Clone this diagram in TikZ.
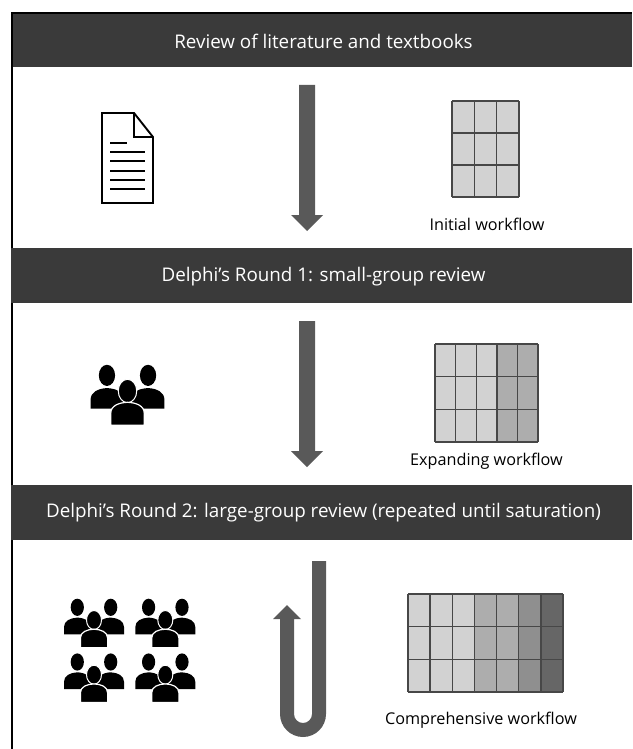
\documentclass[tikz,border=0pt]{standalone}
\usepackage{fontspec}
\setmainfont{Open Sans}
\tikzset{
  bandtext/.style={text=white,font=\fontsize{18.8}{22}\selectfont,inner sep=0pt},
  gridlabel/.style={text=black,font=\fontsize{16.2}{19}\selectfont,inner sep=0pt},
  blockarrow/.style={fill=arrowgray,draw=none},
  gridline/.style={draw=gridgray,line width=1.4pt},
  person/.pic={
    \fill (-16.7,-12.7) ellipse [x radius=6.6,y radius=8.6];
    \fill (16.7,-12.7) ellipse [x radius=6.6,y radius=8.6];
    \fill (-30,14.3) -- (-30,7) .. controls (-30,1) and (-24,-2) .. (-16.7,-2.4) .. controls (-9,-2) and (-3,1) .. (-3,7) -- (-3,14.3) -- cycle;
    \fill (30,14.3) -- (30,7) .. controls (30,1) and (24,-2) .. (16.7,-2.4) .. controls (9,-2) and (3,1) .. (3,7) -- (3,14.3) -- cycle;
    \draw[white,line width=1pt,fill=black] (0,0) ellipse [x radius=7.5,y radius=9.5];
    \draw[white,line width=1.2pt,fill=black] (-13.6,27.8) -- (-13.6,18) .. controls (-13.6,12) and (-7,9.4) .. (0,9.2) .. controls (7,9.4) and (13.6,12) .. (13.6,18) -- (13.6,27.8) -- cycle;
  }
}
\definecolor{bandgray}{HTML}{3A3A3A}
\definecolor{arrowgray}{HTML}{595959}
\definecolor{gridgray}{HTML}{474747}
\definecolor{cella}{HTML}{D2D2D2}
\definecolor{cellb}{HTML}{ADADAD}
\definecolor{cellc}{HTML}{8F8F8F}
\definecolor{celld}{HTML}{666666}
\newcommand{\wfgrid}[6]{% x0,y0,x1,y1,ncols,colours
  \foreach \c [count=\i from 0] in {#6}{
    \fill[\c] ({#1+\i*(#3-#1)/#5},#2) rectangle ({#1+(\i+1)*(#3-#1)/#5},#4);
  }
  \foreach \i in {0,...,#5}{
    \draw[gridline] ({#1+\i*(#3-#1)/#5},#2) -- ({#1+\i*(#3-#1)/#5},#4);
  }
  \foreach \i in {0,...,3}{
    \draw[gridline] (#1,{#2+\i*(#4-#2)/3}) -- (#3,{#2+\i*(#4-#2)/3});
  }
}
\begin{document}
\begin{tikzpicture}[x=1pt,y=-1pt]
\useasboundingbox (0,0) rectangle (632,749);
\fill[white] (0,0) rectangle (632,749);
% frame
\fill[black] (11,12) rectangle (632,14);
\fill[black] (11,12) rectangle (13,749);
% bands
\fill[bandgray] (13,14) rectangle (632,67);
\fill[bandgray] (11,248) rectangle (632,303);
\fill[bandgray] (11,485) rectangle (632,540);
\node[bandtext] (b1) at (323.5,41) {Review of literature and textbooks};
\node[bandtext] (b2) at (323.5,277) {Delphi’s Round 1: small-group review};
\node[bandtext] (b3) at (323.5,513) {Delphi’s Round 2: large-group review (repeated until saturation)};
% document
\draw[black,line width=1.9pt,line join=miter,fill=white] (102,113) -- (134,113) -- (153,137) -- (153,203) -- (102,203) -- cycle;
\draw[black,line width=1.9pt] (134,113) -- (134,137) -- (153,137);
\draw[black,line width=2pt] (110,143) -- (127,143);
\foreach \y in {152,161,170.5,179.5,189}{\draw[black,line width=2pt] (110,\y) -- (145,\y);}
% arrows
\fill[blockarrow] (299,85) -- (315,85) -- (315,215) -- (323,215) -- (307,231) -- (291,215) -- (299,215) -- cycle;
\fill[blockarrow] (299,321) -- (315,321) -- (315,451) -- (323,451) -- (307,467) -- (291,451) -- (299,451) -- cycle;
\fill[blockarrow] (326,561) -- (326,714) arc[start angle=0,end angle=180,radius=23] -- (280,619) -- (273,619) -- (287,605) -- (301,619) -- (294,619) -- (294,714) arc[start angle=180,end angle=0,radius=9] -- (312,561) -- cycle;
% people
\pic[scale=1.23] at (127.5,391) {person};
\pic at (94,620) {person};
\pic at (165.3,620) {person};
\pic at (94,674.7) {person};
\pic at (165.3,674.7) {person};
% grids
\wfgrid{452}{101}{519}{197}{3}{cella,cella,cella}
\wfgrid{435}{344}{538}{442}{5}{cella,cella,cella,cellb,cellb}
\wfgrid{408}{594}{563}{692}{7}{cella,cella,cella,cellb,cellb,cellc,celld}
\node[gridlabel] (l1) at (487,224) {Initial workflow};
\node[gridlabel] (l2) at (486.5,461) {Expanding workflow};
\node[gridlabel] (l3) at (481,720) {Comprehensive workflow};
\end{tikzpicture}
\end{document}
